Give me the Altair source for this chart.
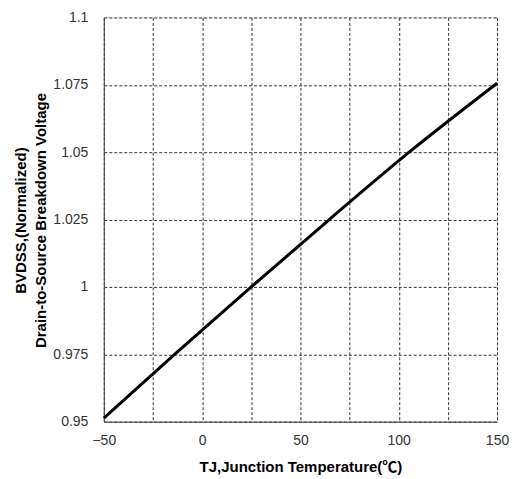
import altair as alt
import pandas as pd

temps = [-50, -14, 25, 64.7, 105.3, 150]
bvdss = [0.9513, 0.975, 1.0, 1.025, 1.05, 1.0756]

x_ticks = [-50, -25, 0, 25, 50, 75, 100, 125, 150]
y_ticks = [0.95, 0.975, 1.0, 1.025, 1.05, 1.075, 1.1]

df = pd.DataFrame({"T": temps, "B": bvdss})

font = "Liberation Sans"
title_font = "Liberation Sans, Noto Sans CJK SC"

chart = (
    alt.Chart(df)
    .mark_line(color="black", strokeWidth=3, interpolate="monotone")
    .encode(
        x=alt.X(
            "T:Q",
            scale=alt.Scale(domain=[-50, 150], nice=False, zero=False),
            axis=alt.Axis(
                values=x_ticks,
                labelExpr="datum.value % 50 == 0 ? datum.label : ''",
                labelFlush=False,
                title="TJ,Junction Temperature(℃)",
                titleX=197,
                titleY=45,
                titleAlign="center",
                titleBaseline="middle",
                titleFontSize=15,
                titleFontWeight="bold",
                titleFont=title_font,
                titleColor="black",
                labelFontSize=14,
                labelFont=font,
                labelColor="#333333",
                labelPadding=12,
                ticks=False,
                domainColor="#444444",
                grid=True,
                gridColor="#333333",
                gridDash=[3, 2],
                gridWidth=1,
            ),
        ),
        y=alt.Y(
            "B:Q",
            scale=alt.Scale(domain=[0.95, 1.1], nice=False, zero=False),
            axis=alt.Axis(
                values=y_ticks,
                format=".3~f",
                labelFlush=False,
                title=["BVDSS,(Normalized)", "Drain-to-Source Breakdown Voltage"],
                titleX=-83,
                titleY=203,
                titleAngle=-90,
                titleAlign="center",
                titleBaseline="middle",
                titleLineHeight=20,
                titleFontSize=15,
                titleFontWeight="bold",
                titleFont=title_font,
                titleColor="black",
                labelFontSize=14,
                labelFont=font,
                labelColor="#333333",
                labelPadding=16,
                ticks=False,
                domainColor="#444444",
                grid=True,
                gridColor="#333333",
                gridDash=[3, 2],
                gridWidth=1,
            ),
        ),
    )
    .properties(
        width=394,
        height=405,
        autosize=alt.AutoSizeParams(type="none"),
        padding={"left": 96, "top": 9, "right": 14, "bottom": 60},
    )
    .configure_view(stroke="#888888", strokeWidth=1)
    .configure(background="white")
)

chart.save("out.html", embed_options={"renderer": "svg", "actions": False})
